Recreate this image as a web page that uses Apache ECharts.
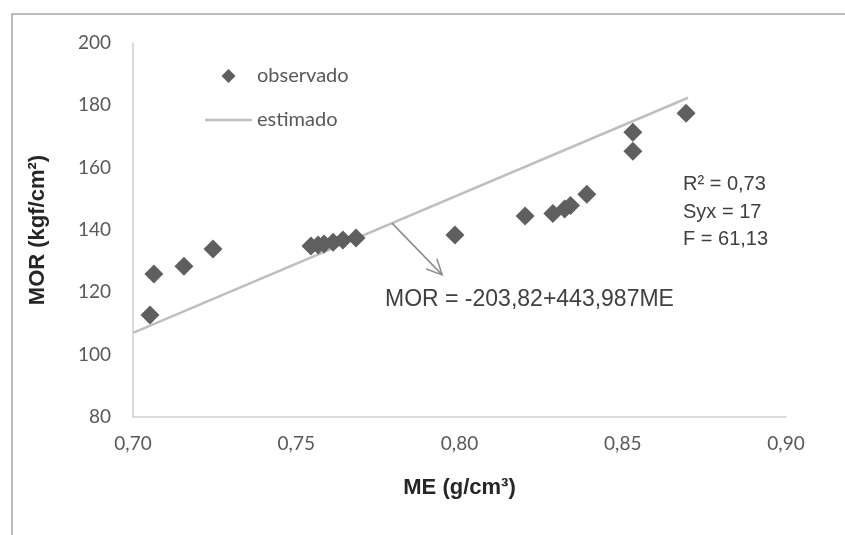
<!DOCTYPE html>
<html>
<head>
<meta charset="utf-8">
<script src="https://cdn.jsdelivr.net/npm/echarts@6/dist/echarts.min.js"></script>
<style>
html,body{margin:0;padding:0;background:#fff;}
#c{width:845px;height:535px;}
</style>
</head>
<body>
<div id="c"></div>
<script>
// Observed data (ME g/cm³, MOR kgf/cm²)
var obsME  = [0.7052, 0.7064, 0.7156, 0.7245, 0.7545, 0.7567, 0.7585, 0.7613, 0.7643, 0.7683,
              0.7986, 0.8201, 0.8286, 0.8322, 0.8340, 0.8390, 0.8531, 0.8531, 0.8694];
var obsMOR = [112.7, 125.9, 128.4, 133.9, 134.9, 135.2, 135.5, 136.1, 136.8, 137.4,
              138.4, 144.5, 145.3, 146.7, 147.9, 151.5, 165.3, 171.4, 177.5];
// Estimated regression line MOR = -203.82 + 443.987*ME
var estME  = [0.70, 0.87];
var estMOR = [106.97, 182.44];
// Arrow annotation endpoints (data coords)
var arrowME  = [0.7793, 0.7947];
var arrowMOR = [142.2, 125.6];
var xTicks = ['0,70','0,75','0,80','0,85','0,90'];
var yTicks = ['80','100','120','140','160','180','200'];
var statLines = ['R² = 0,73', 'Syx = 17', 'F = 61,13'];
var eqText = 'MOR = -203,82+443,987ME';

var chart = echarts.init(document.getElementById('c'), null, {renderer:'canvas'});
var obsData = obsME.map(function(x,i){return [x, obsMOR[i]];});
var estData = estME.map(function(x,i){return [x, estMOR[i]];});
var tickFont = 'Lato, "Open Sans", sans-serif';
var option = {
  animation:false,
  grid:{left:133, right:59, top:43, bottom:118},
  legend:{
    orient:'vertical', left:200, top:61, itemWidth:47, itemHeight:14, itemGap:24,
    symbolKeepAspect:true,
    textStyle:{fontFamily:tickFont, fontSize:20, color:'#595959'},
    data:[
      {name:'observado', icon:'path://M5,0L10,5L5,10L0,5Z', itemStyle:{color:'#5f5f5f'}},
      {name:'estimado', icon:'path://M0,0H100V5.5H0Z', itemStyle:{color:'#bfbfbf'}}
    ]
  },
  xAxis:{
    type:'value', min:0.70, max:0.90, interval:0.05,
    axisLine:{lineStyle:{color:'#d0d0d0', width:1.5}},
    axisTick:{show:false}, splitLine:{show:false},
    axisLabel:{margin:17, fontFamily:tickFont, fontSize:19, color:'#595959',
      formatter:function(v){var i=Math.round((v-0.70)/0.05); return xTicks[i]!==undefined?xTicks[i]:'';}},
    name:'ME (g/cm³)', nameLocation:'middle', nameGap:60,
    nameTextStyle:{fontFamily:'"Liberation Sans", Arial, sans-serif', fontWeight:'bold', fontSize:22, color:'#262626'}
  },
  yAxis:{
    type:'value', min:80, max:200, interval:20,
    axisLine:{show:true, lineStyle:{color:'#d0d0d0', width:1.5}},
    axisTick:{show:false}, splitLine:{show:false},
    axisLabel:{margin:22, fontFamily:tickFont, fontSize:19, color:'#595959',
      formatter:function(v){var i=Math.round((v-80)/20); return yTicks[i]!==undefined?yTicks[i]:'';}},
    name:'MOR (kgf/cm²)', nameLocation:'middle', nameGap:84, nameRotate:90,
    nameTextStyle:{fontFamily:'"Liberation Sans", Arial, sans-serif', fontWeight:'bold', fontSize:22, color:'#262626'}
  },
  series:[
    {name:'estimado', type:'line', data:estData, symbol:'none', showSymbol:false,
     lineStyle:{color:'#bfbfbf', width:2.5}, itemStyle:{color:'#bfbfbf'}, z:1},
    {name:'observado', type:'scatter', data:obsData, symbol:'diamond', symbolSize:19,
     itemStyle:{color:'#5f5f5f', opacity:1}, z:2}
  ]
};
chart.setOption(option);

var p0 = chart.convertToPixel({gridIndex:0}, [arrowME[0], arrowMOR[0]]);
var p1 = chart.convertToPixel({gridIndex:0}, [arrowME[1], arrowMOR[1]]);
var ang = Math.atan2(p1[1]-p0[1], p1[0]-p0[0]);
var hl = 17, ha = 0.45;
var h1 = [p1[0]-hl*Math.cos(ang-ha), p1[1]-hl*Math.sin(ang-ha)];
var h2 = [p1[0]-hl*Math.cos(ang+ha), p1[1]-hl*Math.sin(ang+ha)];
var annFont = '"Liberation Sans", Arial, sans-serif';
chart.setOption({
  graphic:[
    {type:'rect', shape:{x:12, y:14, width:900, height:600}, style:{fill:'none', stroke:'#a6a6a6', lineWidth:1.5}, silent:true, z:-10},
    {type:'line', shape:{x1:p0[0], y1:p0[1], x2:p1[0], y2:p1[1]}, style:{stroke:'#8c8c8c', lineWidth:1.5}, z:10},
    {type:'polyline', shape:{points:[h1, p1, h2]}, style:{stroke:'#8c8c8c', lineWidth:1.5, fill:'none'}, z:10},
    {type:'text', left:385, top:288, style:{text:eqText, font:'23px '+annFont, fill:'#404040'}, z:10},
    {type:'text', left:683, top:171, style:{text:statLines.join('\n'), font:'20px '+annFont, lineHeight:27.5, fill:'#404040'}, z:10}
  ]
});
</script>
</body>
</html>
